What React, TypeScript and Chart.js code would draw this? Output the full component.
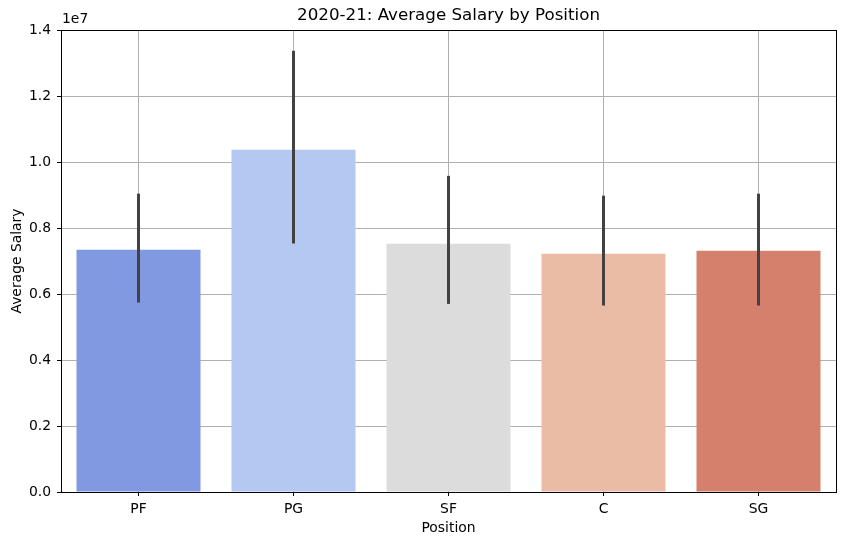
import React, { useEffect, useRef } from "react";
import { Chart, registerables } from "chart.js";

Chart.register(...registerables);

const categories = ["PF", "PG", "SF", "C", "SG"];
const avgSalary = [7.34e6, 10.37e6, 7.52e6, 7.22e6, 7.31e6];
const errLow = [5.74e6, 7.53e6, 5.7e6, 5.65e6, 5.65e6];
const errHigh = [9.04e6, 13.37e6, 9.58e6, 8.98e6, 9.04e6];
const barColors = ["#8099e1", "#b4c8f2", "#dcdcdc", "#eabba5", "#d5806d"];
const yTickValues = [0, 2e6, 4e6, 6e6, 8e6, 10e6, 12e6, 14e6];
const chartTitle = "2020-21: Average Salary by Position";

const FONT = "DejaVu Sans";

const overlayPlugin = {
  id: "overlay",
  afterDraw(chart: any) {
    const { ctx, chartArea, scales } = chart;
    const x = scales.x;
    const y = scales.y;
    ctx.save();
    // error bars
    ctx.strokeStyle = "#424242";
    ctx.lineWidth = 3;
    ctx.lineCap = "butt";
    categories.forEach((_, i) => {
      const px = x.getPixelForValue(i);
      ctx.beginPath();
      ctx.moveTo(px, y.getPixelForValue(errLow[i]));
      ctx.lineTo(px, y.getPixelForValue(errHigh[i]));
      ctx.stroke();
    });
    // frame
    ctx.strokeStyle = "#000";
    ctx.lineWidth = 1;
    ctx.strokeRect(
      Math.round(chartArea.left) + 0.5,
      Math.round(chartArea.top) + 0.5,
      Math.round(chartArea.right - chartArea.left),
      Math.round(chartArea.bottom - chartArea.top)
    );
    // offset text
    ctx.fillStyle = "#000";
    ctx.font = `13.9px '${FONT}'`;
    ctx.textAlign = "left";
    ctx.textBaseline = "bottom";
    ctx.fillText("1e7", chartArea.left + 1, chartArea.top - 4);
    // title centred over the plot area
    ctx.font = `16.7px '${FONT}'`;
    ctx.textAlign = "center";
    ctx.textBaseline = "middle";
    ctx.fillText(chartTitle, (chartArea.left + chartArea.right) / 2, 16);
    ctx.restore();
  },
};

export default function App() {
  const ref = useRef<HTMLCanvasElement | null>(null);
  useEffect(() => {
    document.body.style.margin = "0";
    const chart = new Chart(ref.current as HTMLCanvasElement, {
      type: "bar",
      data: {
        labels: categories,
        datasets: [
          {
            data: avgSalary,
            backgroundColor: barColors,
            borderWidth: 0,
            barPercentage: 0.8,
            categoryPercentage: 1,
          },
        ],
      },
      options: {
        animation: false,
        responsive: true,
        maintainAspectRatio: false,
        layout: { padding: { left: 0, right: 10, top: 30, bottom: 0 } },
        plugins: {
          legend: { display: false },
          tooltip: { enabled: false },
          title: { display: false },
        },
        scales: {
          x: {
            z: 1,
            offset: true,
            grid: {
              offset: false,
              color: "#b0b0b0",
              lineWidth: 1,
              tickLength: 4,
              tickColor: "#000",
            },
            border: { display: false },
            ticks: {
              color: "#000",
              font: { family: FONT, size: 13.9 },
              padding: 5,
            },
            title: {
              display: true,
              text: "Position",
              color: "#000",
              font: { family: FONT, size: 13.9 },
              padding: { top: 0, bottom: 8 },
            },
            afterFit(scale: any) {
              scale.height = 53;
            },
          },
          y: {
            z: 1,
            min: 0,
            max: 1.4e7,
            afterBuildTicks(scale: any) {
              scale.ticks = yTickValues.map((v) => ({ value: v }));
            },
            grid: {
              color: "#b0b0b0",
              lineWidth: 1,
              tickLength: 4,
              tickColor: "#000",
            },
            border: { display: false },
            ticks: {
              color: "#000",
              font: { family: FONT, size: 13.9 },
              padding: 6,
              callback: (v: any) => (Number(v) / 1e7).toFixed(1),
            },
            title: {
              display: true,
              text: "Average Salary",
              color: "#000",
              font: { family: FONT, size: 13.9 },
              padding: { top: 9, bottom: 0 },
            },
            afterFit(scale: any) {
              scale.width = 61;
            },
          },
        },
      },
      plugins: [overlayPlugin],
    } as any);
    return () => chart.destroy();
  }, []);
  return (
    <div style={{ position: "fixed", left: 0, top: 0, width: 846, height: 545 }}>
      <canvas ref={ref} />
    </div>
  );
}
